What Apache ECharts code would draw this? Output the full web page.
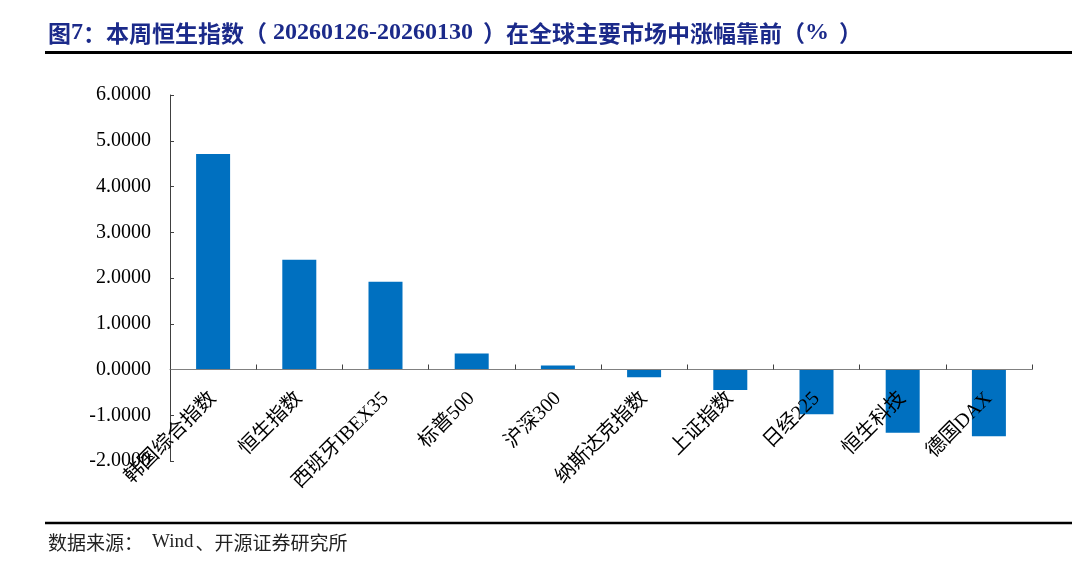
<!DOCTYPE html>
<html>
<head>
<meta charset="utf-8">
<script src="https://cdn.jsdelivr.net/npm/echarts@6/dist/echarts.min.js"></script>
<style>
html,body{margin:0;padding:0;background:#fff;}
#chart{width:1080px;height:576px;}
</style>
</head>
<body>
<div id="chart"></div>
<script>
var categories = ['韩国综合指数','恒生指数','西班牙IBEX35','标普500','沪深300','纳斯达克指数','上证指数','日经225','恒生科技','德国DAX'];
var values = [4.71, 2.40, 1.92, 0.35, 0.09, -0.17, -0.45, -0.98, -1.38, -1.46];
var yTicks = [-2, -1, 0, 1, 2, 3, 4, 5, 6];
var titleParts = ['图', '7', '：', '本周恒生指数', '（', '20260126-20260130', '）', '在全球主要市场中涨幅靠前', '（', '%', '）'];
var sourceParts = ['数据来源：', 'Wind', '、开源证券研究所'];

var serif = '"Liberation Serif", "Times New Roman", "Noto Sans CJK SC", serif';
var cjk = '"Noto Sans CJK SC", sans-serif';

var gridTop = 95, gridBottom = 115, H = 576;
var yMin = yTicks[0], yMax = yTicks[yTicks.length - 1];
var gridH = H - gridTop - gridBottom;
var zeroOffset = -gridH * (0 - yMin) / (yMax - yMin);

var tc = {fontFamily: cjk, fontWeight: 'bold', fontSize: 23, fill: '#1b2a8a'};
var td = {fontFamily: '"Liberation Serif", serif', fontWeight: 'bold', fontSize: 24, fill: '#1b2a8a'};
var titleRich = {
  c: tc,
  d: td,
  dp: Object.assign({}, td, {padding: [0, 0, 0, 6]}),
  cp: Object.assign({}, tc, {padding: [0, 0, 0, 10]})
};
var titleStr = '{c|' + titleParts[0] + '}{d|' + titleParts[1] + '}{c|' + titleParts[2] + '}{c|' + titleParts[3] + '}{c|' + titleParts[4] +
  '}{dp|' + titleParts[5] + '}{cp|' + titleParts[6] + '}{c|' + titleParts[7] + '}{c|' + titleParts[8] + '}{d|' + titleParts[9] + '}{cp|' + titleParts[10] + '}';

var sc = {fontFamily: cjk, fontSize: 19, fill: '#222'};
var sourceRich = {
  c: sc,
  w: {fontFamily: '"Liberation Serif", serif', fontSize: 19, fill: '#222', padding: [0, 2, 0, 9]}
};
var sourceStr = '{c|' + sourceParts[0] + '}{w|' + sourceParts[1] + '}{c|' + sourceParts[2] + '}';

var chart = echarts.init(document.getElementById('chart'));
chart.setOption({
  animation: false,
  backgroundColor: '#ffffff',
  grid: {left: 170, right: 48, top: gridTop, bottom: gridBottom, containLabel: false},
  xAxis: {
    type: 'category',
    data: categories,
    position: 'bottom',
    offset: zeroOffset,
    z: 10,
    axisLine: {onZero: false, lineStyle: {color: '#808080', width: 1}},
    axisTick: {show: true, inside: true, length: 5, lineStyle: {color: '#404040'}},
    axisLabel: {rotate: 45, margin: 26, interval: 0, color: '#000', fontSize: 20, fontFamily: serif}
  },
  yAxis: {
    type: 'value',
    min: yMin,
    max: yMax,
    interval: 1,
    axisLine: {show: true, lineStyle: {color: '#404040', width: 1}},
    axisTick: {show: true, inside: true, length: 4, lineStyle: {color: '#404040'}},
    splitLine: {show: false},
    axisLabel: {margin: 19, color: '#000', fontSize: 20, fontFamily: serif,
      formatter: function (v) { return v.toFixed(4); }}
  },
  series: [{
    type: 'bar',
    data: values,
    barWidth: 34,
    z: 2,
    itemStyle: {color: '#0070C0'}
  }],
  graphic: [
    {type: 'text', left: 48, top: 21, style: {text: titleStr, rich: titleRich}},
    {type: 'line', shape: {x1: 45, y1: 52.5, x2: 1072, y2: 52.5}, style: {stroke: '#000', lineWidth: 3}},
    {type: 'line', shape: {x1: 45, y1: 523, x2: 1072, y2: 523}, style: {stroke: '#000', lineWidth: 2.5}},
    {type: 'text', left: 48, top: 533, style: {text: sourceStr, rich: sourceRich}}
  ]
});
</script>
</body>
</html>
